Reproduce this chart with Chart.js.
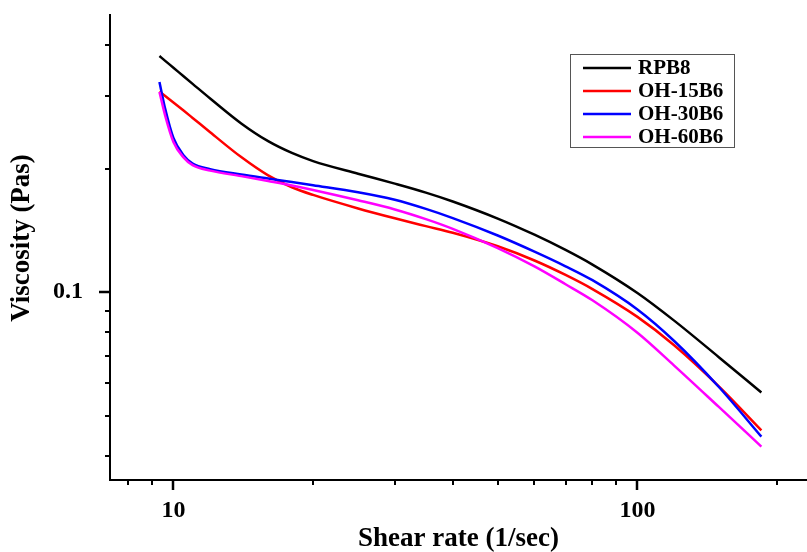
<!DOCTYPE html>
<html><head><meta charset="utf-8">
<script src="https://cdn.jsdelivr.net/npm/chart.js@4/dist/chart.umd.min.js"></script>
<style>html,body{margin:0;padding:0;background:#fff;}#wrap{width:807px;height:552px;position:relative;}</style>
</head><body><div id="wrap"><canvas id="c" width="807" height="552"></canvas></div>
<script>
const shearRate = [9.33, 9.6, 10, 10.5, 11, 12, 14, 16, 18, 20, 25, 30, 35, 40, 50, 60, 70, 80, 100, 120, 150, 185];
const rpb8   = [0.3763, 0.3661, 0.3523, 0.3363, 0.3218, 0.2964, 0.2577, 0.2333, 0.2184, 0.2087, 0.1944, 0.1839, 0.1749, 0.1664, 0.1512, 0.1381, 0.1268, 0.1168, 0.0996, 0.0853, 0.0694, 0.0570];
const oh15b6 = [0.3083, 0.3006, 0.2899, 0.2774, 0.2658, 0.2453, 0.2134, 0.1926, 0.1802, 0.1726, 0.1600, 0.1514, 0.1449, 0.1396, 0.1294, 0.1195, 0.1102, 0.1018, 0.0871, 0.0743, 0.0589, 0.0461];
const oh30b6 = [0.3252, 0.2796, 0.2375, 0.2160, 0.2059, 0.1995, 0.1935, 0.1892, 0.1856, 0.1823, 0.1753, 0.1680, 0.1596, 0.1516, 0.1375, 0.1256, 0.1157, 0.1070, 0.0908, 0.0761, 0.0587, 0.0445];
const oh60b6 = [0.3075, 0.2691, 0.2323, 0.2133, 0.2040, 0.1978, 0.1918, 0.1866, 0.1820, 0.1775, 0.1675, 0.1591, 0.1507, 0.1427, 0.1281, 0.1156, 0.1046, 0.0956, 0.0797, 0.0663, 0.0525, 0.0421];
const seriesNames = ['RPB8', 'OH-15B6', 'OH-30B6', 'OH-60B6'];
const seriesColors = ['#000000', '#ff0000', '#0000ff', '#ff00ff'];
const xTickValues = [8, 9, 10, 20, 30, 40, 50, 60, 70, 80, 90, 100, 200];
const xTickLabels = {10: '10', 100: '100'};
const yTickValues = [0.04, 0.05, 0.06, 0.07, 0.08, 0.09, 0.1, 0.2, 0.3, 0.4];
const yTickLabels = {0.1: '0.1'};
const xTitle = 'Shear rate (1/sec)';
const yTitle = 'Viscosity (Pas)';

const FONT = "'Liberation Serif', 'Times New Roman', serif";
const allSeries = [rpb8, oh15b6, oh30b6, oh60b6];

const tickMarks = {
  id: 'tickMarks',
  afterDraw(chart) {
    const ctx = chart.ctx, a = chart.chartArea;
    const xs = chart.scales.x, ys = chart.scales.y;
    ctx.save();
    ctx.strokeStyle = '#000';
    xs.ticks.forEach(t => {
      const major = xTickLabels[t.value] !== undefined;
      const p = Math.round(xs.getPixelForValue(t.value));
      ctx.lineWidth = major ? 2.5 : 2;
      ctx.beginPath(); ctx.moveTo(p, a.bottom); ctx.lineTo(p, a.bottom + (major ? 10 : 5)); ctx.stroke();
    });
    ys.ticks.forEach(t => {
      const major = yTickLabels[t.value] !== undefined;
      const p = Math.round(ys.getPixelForValue(t.value));
      ctx.lineWidth = major ? 2.5 : 2;
      ctx.beginPath(); ctx.moveTo(a.left, p); ctx.lineTo(a.left - (major ? 11 : 5), p); ctx.stroke();
    });
    ctx.restore();
  }
};

const yAxisTitle = {
  id: 'yAxisTitle',
  afterDraw(chart, args, opts) {
    const ctx = chart.ctx;
    ctx.save();
    ctx.translate(opts.x, opts.y);
    ctx.rotate(-Math.PI / 2);
    ctx.font = 'bold 27px ' + FONT;
    ctx.fillStyle = '#000';
    ctx.textAlign = 'center';
    ctx.textBaseline = 'middle';
    ctx.fillText(opts.text, 0, 0);
    ctx.restore();
  }
};

const boxLegend = {
  id: 'boxLegend',
  afterDraw(chart, args, opts) {
    const ctx = chart.ctx;
    ctx.save();
    ctx.strokeStyle = '#555';
    ctx.lineWidth = 1;
    ctx.strokeRect(opts.x + 0.5, opts.y + 0.5, opts.w, opts.h);
    ctx.font = 'bold 21px ' + FONT;
    ctx.textBaseline = 'middle';
    ctx.fillStyle = '#000';
    chart.data.datasets.forEach((ds, i) => {
      const y = opts.y + opts.first + i * opts.step;
      ctx.strokeStyle = ds.borderColor;
      ctx.lineWidth = 2.5;
      ctx.beginPath(); ctx.moveTo(opts.x + 13, y); ctx.lineTo(opts.x + 61, y); ctx.stroke();
      ctx.fillText(ds.label, opts.x + 68, y + 1);
    });
    ctx.restore();
  }
};

const datasets = seriesNames.map((name, i) => ({
  label: name,
  data: shearRate.map((x, j) => ({x: x, y: allSeries[i][j]})),
  borderColor: seriesColors[i],
  backgroundColor: seriesColors[i],
  borderWidth: 2.5,
  pointRadius: 0,
  fill: false,
  cubicInterpolationMode: 'monotone',
  order: 4 - i
}));

new Chart(document.getElementById('c'), {
  type: 'line',
  data: {datasets},
  options: {
    responsive: false,
    animation: false,
    devicePixelRatio: 1,
    layout: {padding: {top: 15, right: 0, left: 0, bottom: 0}},
    plugins: {
      legend: {display: false},
      tooltip: {enabled: false},
      boxLegend: {x: 570, y: 54, w: 164, h: 93, first: 14, step: 23},
      yAxisTitle: {text: yTitle, x: 22, y: 238}
    },
    scales: {
      x: {
        type: 'logarithmic', position: 'bottom', min: 7.3, max: 232,
        border: {display: true, color: '#000', width: 2},
        grid: {display: false, drawTicks: false},
        afterBuildTicks: s => { s.ticks = xTickValues.map(v => ({value: v})); },
        afterFit: s => { s.height = 72; s.paddingLeft = 0; s.paddingRight = 0; },
        ticks: {
          autoSkip: false, maxRotation: 0, minRotation: 0, padding: 16, color: '#000',
          font: {family: FONT, size: 24, weight: 'bold'},
          callback: v => xTickLabels[v] !== undefined ? xTickLabels[v] : ''
        },
        title: {display: true, text: xTitle, color: '#000', padding: {top: 0, bottom: -1},
          font: {family: FONT, size: 27, weight: 'bold', lineHeight: 1}}
      },
      y: {
        type: 'logarithmic', position: 'left', min: 0.0349, max: 0.4734,
        border: {display: true, color: '#000', width: 2},
        grid: {display: false, drawTicks: false},
        afterBuildTicks: s => { s.ticks = yTickValues.map(v => ({value: v})); },
        afterFit: s => { s.width = 110; s.paddingTop = 0; s.paddingBottom = 0; },
        ticks: {
          autoSkip: false, padding: 27, color: '#000',
          font: {family: FONT, size: 24, weight: 'bold'},
          callback: v => yTickLabels[v] !== undefined ? yTickLabels[v] : ''
        },
        title: {display: false}
      }
    }
  },
  plugins: [tickMarks, boxLegend, yAxisTitle]
});
</script>
</body></html>
